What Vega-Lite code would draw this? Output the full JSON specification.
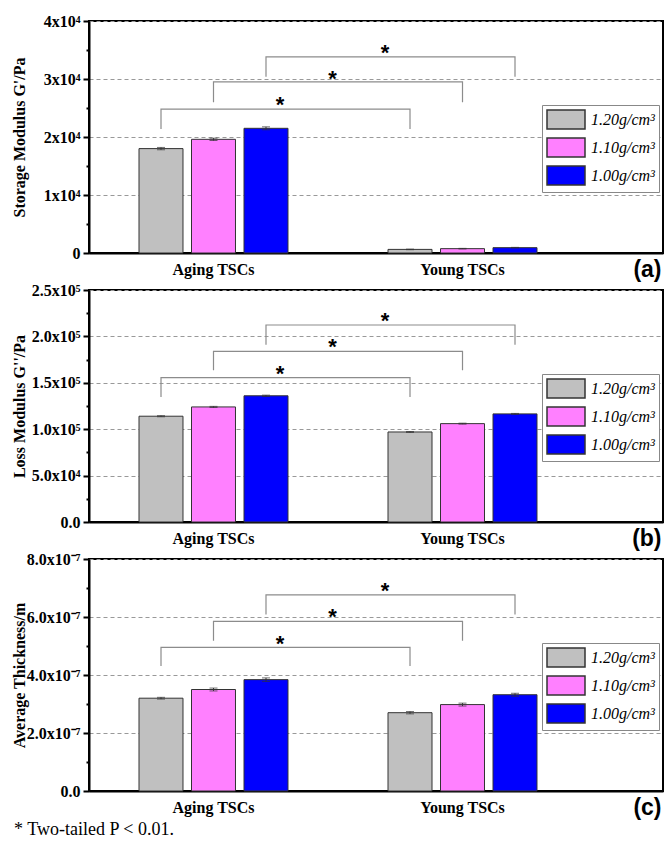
{
  "$schema": "https://vega.github.io/schema/vega-lite/v6.json",
  "background": "white",
  "padding": {"left": 10, "top": 12, "right": 5, "bottom": 5},
  "bounds": "flush",
  "spacing": 37,
  "title": {"text": "* Two-tailed P < 0.01.", "orient": "bottom", "anchor": "start", "frame": "bounds", "font": "Liberation Serif", "fontSize": 18, "fontWeight": "normal", "color": "black", "offset": 1, "dx": 4},
  "config": {
    "view": {"stroke": "black", "strokeWidth": 2},
    "axis": {"domainColor": "black", "domainWidth": 2, "labelFont": "Liberation Serif", "labelFontWeight": "bold", "labelFontSize": 16, "labelColor": "black", "titleFont": "Liberation Serif", "titleFontWeight": "bold", "titleFontSize": 16, "titleColor": "black", "tickColor": "black", "tickWidth": 2},
    "axisX": {"ticks": false, "grid": false, "labelAngle": 0, "labelPadding": 8, "titleFont": "Liberation Sans", "titleFontSize": 23, "titleX": 572, "titleY": 16, "titleAlign": "right", "titleBaseline": "middle", "titleAngle": 0},
    "axisY": {"grid": true, "gridColor": "#999", "gridDash": [4, 3], "gridWidth": 1, "labelPadding": 3, "titleX": -70, "titleY": 116, "titleAngle": 270, "titleAlign": "center", "titleBaseline": "middle"},
    "legend": {"title": null, "orient": "none", "legendX": 453, "legendY": 84, "symbolType": "M-1,-1H3V1H-1Z", "symbolSize": 361, "symbolStrokeColor": "#333", "symbolStrokeWidth": 1.5, "symbolOpacity": 1, "labelFont": "Liberation Serif", "labelFontStyle": "italic", "labelFontSize": 16, "labelColor": "black", "labelOffset": 24, "rowPadding": 3, "padding": 4, "strokeColor": "#888", "fillColor": "white"}
  },
  "resolve": {"scale": {"color": "independent"}, "legend": {"color": "independent"}},
  "datasets": {
    "barsA": [
      {"group": "Aging TSCs", "density": "1.20g/cm³", "v": 18000, "err": 200},
      {"group": "Aging TSCs", "density": "1.10g/cm³", "v": 19600, "err": 200},
      {"group": "Aging TSCs", "density": "1.00g/cm³", "v": 21500, "err": 250},
      {"group": "Young TSCs", "density": "1.20g/cm³", "v": 620, "err": 50},
      {"group": "Young TSCs", "density": "1.10g/cm³", "v": 750, "err": 50},
      {"group": "Young TSCs", "density": "1.00g/cm³", "v": 920, "err": 50}
    ],
    "barsB": [
      {"group": "Aging TSCs", "density": "1.20g/cm³", "v": 114000, "err": 600},
      {"group": "Aging TSCs", "density": "1.10g/cm³", "v": 124000, "err": 600},
      {"group": "Aging TSCs", "density": "1.00g/cm³", "v": 136000, "err": 700},
      {"group": "Young TSCs", "density": "1.20g/cm³", "v": 97000, "err": 500},
      {"group": "Young TSCs", "density": "1.10g/cm³", "v": 106000, "err": 500},
      {"group": "Young TSCs", "density": "1.00g/cm³", "v": 116500, "err": 500}
    ],
    "barsC": [
      {"group": "Aging TSCs", "density": "1.20g/cm³", "v": 3.2e-7, "err": 3e-9},
      {"group": "Aging TSCs", "density": "1.10g/cm³", "v": 3.5e-7, "err": 5e-9},
      {"group": "Aging TSCs", "density": "1.00g/cm³", "v": 3.84e-7, "err": 6e-9},
      {"group": "Young TSCs", "density": "1.20g/cm³", "v": 2.7e-7, "err": 4e-9},
      {"group": "Young TSCs", "density": "1.10g/cm³", "v": 2.98e-7, "err": 5e-9},
      {"group": "Young TSCs", "density": "1.00g/cm³", "v": 3.32e-7, "err": 5e-9}
    ],
    "brA": [
      {"group": "Aging TSCs", "density": "1.20g/cm³", "k": 1, "v": 21400},
      {"group": "Aging TSCs", "density": "1.20g/cm³", "k": 2, "v": 24800},
      {"group": "Young TSCs", "density": "1.20g/cm³", "k": 3, "v": 24800},
      {"group": "Young TSCs", "density": "1.20g/cm³", "k": 4, "v": 21400},
      {"group": "Aging TSCs", "density": "1.10g/cm³", "k": 1, "v": 26000},
      {"group": "Aging TSCs", "density": "1.10g/cm³", "k": 2, "v": 29500},
      {"group": "Young TSCs", "density": "1.10g/cm³", "k": 3, "v": 29500},
      {"group": "Young TSCs", "density": "1.10g/cm³", "k": 4, "v": 26000},
      {"group": "Aging TSCs", "density": "1.00g/cm³", "k": 1, "v": 30400},
      {"group": "Aging TSCs", "density": "1.00g/cm³", "k": 2, "v": 33800},
      {"group": "Young TSCs", "density": "1.00g/cm³", "k": 3, "v": 33800},
      {"group": "Young TSCs", "density": "1.00g/cm³", "k": 4, "v": 30400}
    ],
    "brB": [
      {"group": "Aging TSCs", "density": "1.20g/cm³", "k": 1, "v": 134700},
      {"group": "Aging TSCs", "density": "1.20g/cm³", "k": 2, "v": 155500},
      {"group": "Young TSCs", "density": "1.20g/cm³", "k": 3, "v": 155500},
      {"group": "Young TSCs", "density": "1.20g/cm³", "k": 4, "v": 134700},
      {"group": "Aging TSCs", "density": "1.10g/cm³", "k": 1, "v": 163500},
      {"group": "Aging TSCs", "density": "1.10g/cm³", "k": 2, "v": 183900},
      {"group": "Young TSCs", "density": "1.10g/cm³", "k": 3, "v": 183900},
      {"group": "Young TSCs", "density": "1.10g/cm³", "k": 4, "v": 163500},
      {"group": "Aging TSCs", "density": "1.00g/cm³", "k": 1, "v": 191100},
      {"group": "Aging TSCs", "density": "1.00g/cm³", "k": 2, "v": 212300},
      {"group": "Young TSCs", "density": "1.00g/cm³", "k": 3, "v": 212300},
      {"group": "Young TSCs", "density": "1.00g/cm³", "k": 4, "v": 191100}
    ],
    "brC": [
      {"group": "Aging TSCs", "density": "1.20g/cm³", "k": 1, "v": 4.31e-7},
      {"group": "Aging TSCs", "density": "1.20g/cm³", "k": 2, "v": 4.95e-7},
      {"group": "Young TSCs", "density": "1.20g/cm³", "k": 3, "v": 4.95e-7},
      {"group": "Young TSCs", "density": "1.20g/cm³", "k": 4, "v": 4.31e-7},
      {"group": "Aging TSCs", "density": "1.10g/cm³", "k": 1, "v": 5.18e-7},
      {"group": "Aging TSCs", "density": "1.10g/cm³", "k": 2, "v": 5.85e-7},
      {"group": "Young TSCs", "density": "1.10g/cm³", "k": 3, "v": 5.85e-7},
      {"group": "Young TSCs", "density": "1.10g/cm³", "k": 4, "v": 5.18e-7},
      {"group": "Aging TSCs", "density": "1.00g/cm³", "k": 1, "v": 6.09e-7},
      {"group": "Aging TSCs", "density": "1.00g/cm³", "k": 2, "v": 6.76e-7},
      {"group": "Young TSCs", "density": "1.00g/cm³", "k": 3, "v": 6.76e-7},
      {"group": "Young TSCs", "density": "1.00g/cm³", "k": 4, "v": 6.09e-7}
    ],
    "stA": [
      {"group": "Aging TSCs", "density": "1.20g/cm³", "v": 26400},
      {"group": "Aging TSCs", "density": "1.10g/cm³", "v": 30900},
      {"group": "Aging TSCs", "density": "1.00g/cm³", "v": 35400}
    ],
    "stB": [
      {"group": "Aging TSCs", "density": "1.20g/cm³", "v": 164500},
      {"group": "Aging TSCs", "density": "1.10g/cm³", "v": 193600},
      {"group": "Aging TSCs", "density": "1.00g/cm³", "v": 221600}
    ],
    "stC": [
      {"group": "Aging TSCs", "density": "1.20g/cm³", "v": 5.23e-7},
      {"group": "Aging TSCs", "density": "1.10g/cm³", "v": 6.17e-7},
      {"group": "Aging TSCs", "density": "1.00g/cm³", "v": 7.08e-7}
    ]
  },
  "vconcat": [
    {
      "width": 574, "height": 232,
      "encoding": {
        "x": {"field": "group", "type": "nominal", "sort": ["Aging TSCs", "Young TSCs"], "scale": {"paddingInner": 0, "paddingOuter": 0.1526, "align": 0}, "axis": {"title": "(a)"}},
        "xOffset": {"field": "density", "type": "nominal", "sort": ["1.20g/cm³", "1.10g/cm³", "1.00g/cm³"], "scale": {"paddingInner": 0.162, "paddingOuter": 0.9525}},
        "y": {"field": "v", "type": "quantitative", "scale": {"domain": [0, 40000], "nice": false, "zero": true}, "axis": {"title": "Storage Modulus G'/Pa", "values": [0, 5000, 10000, 15000, 20000, 25000, 30000, 35000, 40000], "labelExpr": "round(datum.value/5000) % 2 == 1 ? '' : (datum.value == 0 ? '0' : format(datum.value/10000, 'd') + 'x10⁴')", "tickSize": {"condition": {"test": "round(datum.value/5000) % 2 == 1", "value": 3}, "value": 6}, "gridOpacity": {"condition": {"test": "round(datum.value/5000) % 2 == 1", "value": 0}, "value": 1}}}
      },
      "layer": [
        {"data": {"name": "barsA"}, "mark": {"type": "bar", "stroke": "#333", "strokeWidth": 1},
         "encoding": {"color": {"field": "density", "type": "nominal", "scale": {"domain": ["1.20g/cm³", "1.10g/cm³", "1.00g/cm³"], "range": ["#c0c0c0", "#ff80ff", "#0000ff"]}, "legend": {"labelFont": "Liberation Serif", "labelFontStyle": "italic"}}}},
        {"data": {"name": "barsA"}, "mark": {"type": "errorbar", "ticks": {"size": 8}, "color": "#333"}, "encoding": {"yError": {"field": "err"}}},
        {"data": {"name": "brA"}, "mark": {"type": "line", "color": "#8c8c8c", "strokeWidth": 1.2}, "encoding": {"detail": {"field": "density"}, "order": {"field": "k", "type": "quantitative"}}},
        {"data": {"name": "stA"}, "mark": {"type": "text", "text": "*", "dx": 119, "dy": 5, "font": "Liberation Sans", "fontWeight": "bold", "fontSize": 22, "color": "black"}, "encoding": {}}
      ]
    },
    {
      "width": 574, "height": 232,
      "encoding": {
        "x": {"field": "group", "type": "nominal", "sort": ["Aging TSCs", "Young TSCs"], "scale": {"paddingInner": 0, "paddingOuter": 0.1526, "align": 0}, "axis": {"title": "(b)"}},
        "xOffset": {"field": "density", "type": "nominal", "sort": ["1.20g/cm³", "1.10g/cm³", "1.00g/cm³"], "scale": {"paddingInner": 0.162, "paddingOuter": 0.9525}},
        "y": {"field": "v", "type": "quantitative", "scale": {"domain": [0, 250000], "nice": false, "zero": true}, "axis": {"title": "Loss Modulus G''/Pa", "values": [0, 25000, 50000, 75000, 100000, 125000, 150000, 175000, 200000, 225000, 250000], "labelExpr": "round(datum.value/25000) % 2 == 1 ? '' : (datum.value == 0 ? '0.0' : (datum.value < 100000 ? format(datum.value/10000, '.1f') + 'x10⁴' : format(datum.value/100000, '.1f') + 'x10⁵'))", "tickSize": {"condition": {"test": "round(datum.value/25000) % 2 == 1", "value": 3}, "value": 6}, "gridOpacity": {"condition": {"test": "round(datum.value/25000) % 2 == 1", "value": 0}, "value": 1}}}
      },
      "layer": [
        {"data": {"name": "barsB"}, "mark": {"type": "bar", "stroke": "#333", "strokeWidth": 1},
         "encoding": {"color": {"field": "density", "type": "nominal", "scale": {"domain": ["1.20g/cm³", "1.10g/cm³", "1.00g/cm³"], "range": ["#c0c0c0", "#ff80ff", "#0000ff"]}, "legend": {"labelFont": "Liberation Serif", "labelFontStyle": "italic"}}}},
        {"data": {"name": "barsB"}, "mark": {"type": "errorbar", "ticks": {"size": 8}, "color": "#333"}, "encoding": {"yError": {"field": "err"}}},
        {"data": {"name": "brB"}, "mark": {"type": "line", "color": "#8c8c8c", "strokeWidth": 1.2}, "encoding": {"detail": {"field": "density"}, "order": {"field": "k", "type": "quantitative"}}},
        {"data": {"name": "stB"}, "mark": {"type": "text", "text": "*", "dx": 119, "dy": 5, "font": "Liberation Sans", "fontWeight": "bold", "fontSize": 22, "color": "black"}, "encoding": {}}
      ]
    },
    {
      "width": 574, "height": 232,
      "encoding": {
        "x": {"field": "group", "type": "nominal", "sort": ["Aging TSCs", "Young TSCs"], "scale": {"paddingInner": 0, "paddingOuter": 0.1526, "align": 0}, "axis": {"title": "(c)"}},
        "xOffset": {"field": "density", "type": "nominal", "sort": ["1.20g/cm³", "1.10g/cm³", "1.00g/cm³"], "scale": {"paddingInner": 0.162, "paddingOuter": 0.9525}},
        "y": {"field": "v", "type": "quantitative", "scale": {"domain": [0, 8e-7], "nice": false, "zero": true}, "axis": {"title": "Average Thickness/m", "values": [0, 1e-7, 2e-7, 3e-7, 4e-7, 5e-7, 6e-7, 7e-7, 8e-7], "labelExpr": "round(datum.value*1e7) % 2 == 1 ? '' : (datum.value == 0 ? '0.0' : format(datum.value*1e7, '.1f') + 'x10⁻⁷')", "tickSize": {"condition": {"test": "round(datum.value*1e7) % 2 == 1", "value": 3}, "value": 6}, "gridOpacity": {"condition": {"test": "round(datum.value*1e7) % 2 == 1", "value": 0}, "value": 1}}}
      },
      "layer": [
        {"data": {"name": "barsC"}, "mark": {"type": "bar", "stroke": "#333", "strokeWidth": 1},
         "encoding": {"color": {"field": "density", "type": "nominal", "scale": {"domain": ["1.20g/cm³", "1.10g/cm³", "1.00g/cm³"], "range": ["#c0c0c0", "#ff80ff", "#0000ff"]}, "legend": {"labelFont": "Liberation Serif", "labelFontStyle": "italic"}}}},
        {"data": {"name": "barsC"}, "mark": {"type": "errorbar", "ticks": {"size": 8}, "color": "#333"}, "encoding": {"yError": {"field": "err"}}},
        {"data": {"name": "brC"}, "mark": {"type": "line", "color": "#8c8c8c", "strokeWidth": 1.2}, "encoding": {"detail": {"field": "density"}, "order": {"field": "k", "type": "quantitative"}}},
        {"data": {"name": "stC"}, "mark": {"type": "text", "text": "*", "dx": 119, "dy": 5, "font": "Liberation Sans", "fontWeight": "bold", "fontSize": 22, "color": "black"}, "encoding": {}}
      ]
    }
  ]
}
